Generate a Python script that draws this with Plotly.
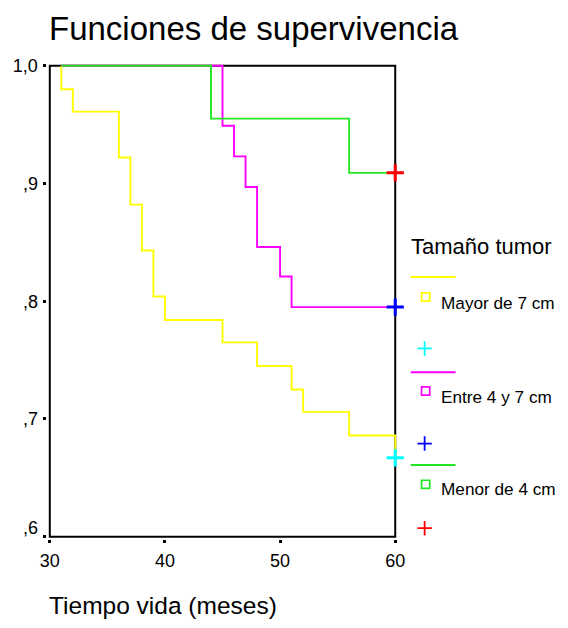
import plotly.graph_objects as go

# ---- data ----
groups = ["Mayor de 7 cm", "Entre 4 y 7 cm", "Menor de 4 cm"]
start_time = 31
end_time = 60
mayor_times = [31, 32, 36, 37, 38, 39, 40, 45, 48, 51, 52, 56, 60]
mayor_surv = [0.980, 0.961, 0.922, 0.882, 0.843, 0.804, 0.784, 0.765, 0.745, 0.725, 0.706, 0.686, 0.667]
entre_times = [45, 46, 47, 48, 50, 51]
entre_surv = [0.949, 0.923, 0.897, 0.846, 0.821, 0.795]
menor_times = [44, 56]
menor_surv = [0.955, 0.909]
censor_time = 60
x_ticks = [30, 40, 50, 60]
y_ticks = [0.6, 0.7, 0.8, 0.9, 1.0]
y_ticktext = [",6", ",7", ",8", ",9", "1,0"]

line_colors = ["#FFFF00", "#FF00FF", "#22E622"]
censor_colors = ["#00FFFF", "#0000FF", "#FF0000"]

# the page body keeps its default 8px margin, so the figure is 16px smaller than the window
PAGE_W, PAGE_H, BODY_MARGIN = 568, 628, 8
W, H = PAGE_W - 2 * BODY_MARGIN, PAGE_H - 2 * BODY_MARGIN
FONT = "Liberation Sans, Arial, sans-serif"

# screen position -> figure pixel (empirical mapping of the photographed page)
OFF, SCX, SCY = 15.1, 0.974, 0.987
def PX(p):
    return (p - OFF) / SCX
def PY(p):
    return (p - OFF) / SCY

# target screen layout of plot frame
x0p, x1p = PX(49.0), PX(395.5)     # x=30 .. x=60
y1p, y0p = PY(65.7), PY(536.0)     # y=1.0 .. y=0.6
xr = (30, 60)
yr = (0.6, 1.0)
xpad, ypad = 0.2, 0.002
xs = (x1p - x0p) / (xr[1] - xr[0])
ys = (y0p - y1p) / (yr[1] - yr[0])
xd = [(x0p - xpad * xs) / W, (x1p + xpad * xs) / W]
yd = [1 - (y0p + ypad * ys) / H, 1 - (y1p - ypad * ys) / H]

fig = go.Figure()

def curve(times, surv, add_end):
    xs_ = [start_time] + list(times)
    ys_ = [1.0] + list(surv)
    if add_end:
        xs_ = xs_ + [end_time]
        ys_ = ys_ + [surv[-1]]
    return xs_, ys_

series = [(mayor_times, mayor_surv, False), (entre_times, entre_surv, True), (menor_times, menor_surv, True)]
for i, (t, s, add_end) in enumerate(series):
    cx, cy = curve(t, s, add_end)
    fig.add_trace(go.Scatter(x=cx, y=cy, mode="lines", line=dict(color=line_colors[i], width=1.9, shape="hv"),
                             showlegend=False, hoverinfo="skip"))
    fig.add_trace(go.Scatter(x=[censor_time], y=[s[-1]], mode="markers",
                             marker=dict(symbol="cross-thin", size=12.3, line=dict(color=censor_colors[i], width=3)),
                             showlegend=False, hoverinfo="skip", cliponaxis=False))

# frame
fig.add_shape(type="rect", x0=xr[0], x1=xr[1], y0=yr[0], y1=yr[1], xref="x", yref="y",
              line=dict(color="black", width=2), layer="below")

# ---- legend drawn in pixel overlay axes ----
leg_line_y = [276.7, 371.7, 464.3]
leg_sq_y = [296.7, 390.5, 483.7]
leg_plus_y = [348.0, 443.0, 527.5]
leg_text_y = [302.5, 396.0, 488.5]
for i in range(3):
    fig.add_trace(go.Scatter(x=[PX(411), PX(456)], y=[PY(leg_line_y[i])] * 2, mode="lines", xaxis="x2", yaxis="y2",
                             line=dict(color=line_colors[i], width=2), showlegend=False, hoverinfo="skip"))
    fig.add_trace(go.Scatter(x=[PX(426)], y=[PY(leg_sq_y[i])], mode="markers", xaxis="x2", yaxis="y2",
                             marker=dict(symbol="square-open", size=8.2, color=line_colors[i],
                                         line=dict(color=line_colors[i], width=1.7)),
                             showlegend=False, hoverinfo="skip"))
    fig.add_trace(go.Scatter(x=[PX(425)], y=[PY(leg_plus_y[i])], mode="markers", xaxis="x2", yaxis="y2",
                             marker=dict(symbol="cross-thin", size=10.3, line=dict(color=censor_colors[i], width=1.8)),
                             showlegend=False, hoverinfo="skip"))
    fig.add_annotation(x=PX(441) - 1.5, y=PY(leg_text_y[i]), xref="x2", yref="y2", text=groups[i], showarrow=False,
                       xanchor="left", yanchor="middle", font=dict(family=FONT, size=17.2, color="black"))

fig.add_annotation(x=PX(411) - 1.5, y=PY(246.5), xref="x2", yref="y2", text="Tamaño tumor", showarrow=False,
                   xanchor="left", yanchor="middle", font=dict(family=FONT, size=22, color="black"))
fig.add_annotation(x=PX(48) - 1.5, y=PY(28.5), xref="x2", yref="y2", text="Funciones de supervivencia", showarrow=False,
                   xanchor="left", yanchor="middle", font=dict(family=FONT, size=33, color="black"))
fig.add_annotation(x=PX(48) - 1.5, y=597.5, xref="x2", yref="y2", text="Tiempo vida (meses)", showarrow=False,
                   xanchor="left", yanchor="middle", font=dict(family=FONT, size=24.5, color="black"))
# lowest y tick label is raised above its tick (as in the original), so it is placed separately
fig.add_annotation(x=PX(39.5), y=PY(527.5), xref="x2", yref="y2", text=y_ticktext[0], showarrow=False,
                   xanchor="right", yanchor="middle", font=dict(family=FONT, size=18, color="black"))
axis_ticktext = [""] + y_ticktext[1:]

fig.update_layout(
    width=W, height=H, margin=dict(l=0, r=0, t=0, b=0, pad=0),
    paper_bgcolor="white", plot_bgcolor="rgba(0,0,0,0)",
    font=dict(family=FONT, color="black"),
    xaxis=dict(domain=xd, range=[xr[0] - xpad, xr[1] + xpad], tickvals=x_ticks, ticks="outside",
               ticklen=3, tickwidth=3, tickcolor="black", showgrid=False, zeroline=False, showline=False,
               ticklabelstandoff=2,
               tickfont=dict(size=18, family=FONT, color="black"), anchor="y", fixedrange=True),
    yaxis=dict(domain=yd, range=[yr[0] - ypad, yr[1] + ypad], tickvals=y_ticks, ticktext=axis_ticktext,
               ticks="outside", ticklen=3, tickwidth=3, tickcolor="black", showgrid=False, zeroline=False,
               showline=False, ticklabelstandoff=2,
               tickfont=dict(size=18, family=FONT, color="black"), anchor="x", fixedrange=True),
    xaxis2=dict(domain=[0, 1], range=[0, W], visible=False, anchor="y2", fixedrange=True),
    yaxis2=dict(domain=[0, 1], range=[H, 0], visible=False, anchor="x2", fixedrange=True),
    showlegend=False,
)

fig.write_html("out.html", config={"displayModeBar": False})
